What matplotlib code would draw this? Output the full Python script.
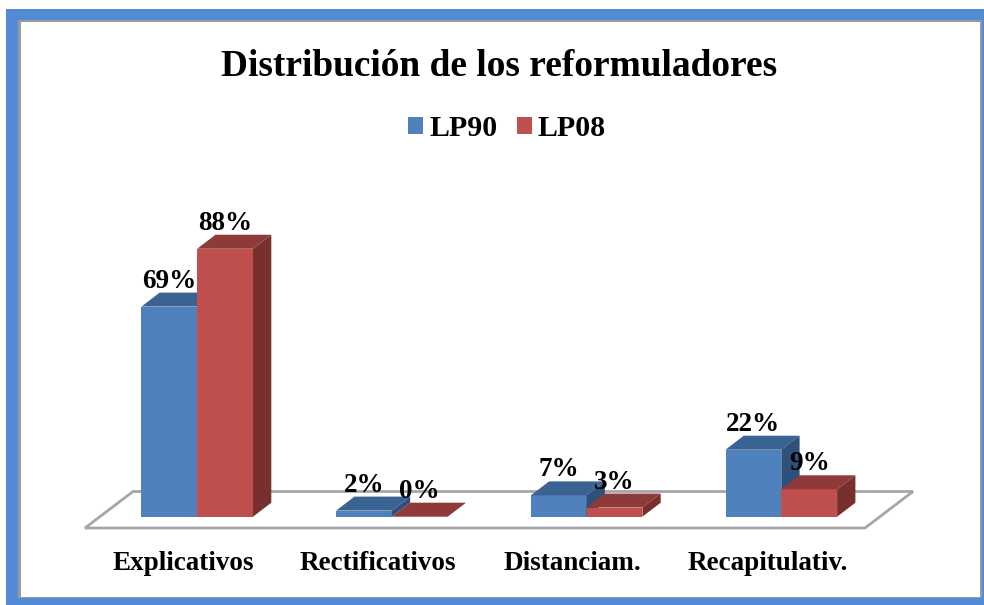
import matplotlib
matplotlib.use('Agg')
import matplotlib.pyplot as plt
from matplotlib.patches import Polygon, Rectangle
import numpy as np

categories = ['Explicativos', 'Rectificativos', 'Distanciam.', 'Recapitulativ.']
lp90 = [69, 2, 7, 22]
lp08 = [88, 0, 3, 9]

W, H = 984, 605
plt.rcParams['font.family'] = ['Liberation Serif', 'DejaVu Serif']
plt.rcParams['font.weight'] = 'bold'

fig = plt.figure(figsize=(W / 100, H / 100), dpi=100, facecolor='white')

# outer frame, in pixels from the top left
def frame(x0, y0, x1, y1, col):
    fig.add_artist(Rectangle((x0 / W, 1 - y1 / H), (x1 - x0) / W, (y1 - y0) / H,
                             transform=fig.transFigure, fc=col, ec='none', zorder=-5))

frame(6, 9, 984, 605, '#528BD4')
frame(18, 20, 982, 598, '#9A9A9A')
frame(20.5, 21.5, 979.5, 596.5, 'white')

# axes: left/right are the ends of the floor, bottom is the bar base
base_px = 516.7
per_pct = 3.045
per_cat = 194.7
left_px, right_px = 85, 913
top_px = base_px - 110 * per_pct
ax = fig.add_axes([left_px / W, 1 - base_px / H, (right_px - left_px) / W, (base_px - top_px) / H])
ax.set_xlim((left_px - 197.2) / per_cat, (right_px - 197.2) / per_cat)
ax.set_ylim(0, 110)
ax.patch.set_alpha(0)
for s in ax.spines.values():
    s.set_visible(False)
ax.set_yticks([])

x = np.arange(len(categories))
bw = 55.8 / per_cat
dx = 18.3 / per_cat
dy = 14 / per_pct

# floor
xl, xr = ax.get_xlim()
floor = Polygon([(xl, -11.3 / per_pct), (xl + 48 / per_cat, 25.2 / per_pct),
                 (xr, 25.2 / per_pct), (xr - 48 / per_cat, -11.3 / per_pct)],
                closed=True, fc='none', ec='#A6A6A6', lw=2, clip_on=False, zorder=1)
ax.add_patch(floor)


def bars3d(xs, vals, front, top, side, label):
    bars = ax.bar(xs, vals, bw, align='edge', color=front, label=label, zorder=3)
    for b, v in zip(xs, vals):
        ax.add_patch(Polygon([(b, v), (b + dx, v + dy), (b + bw + dx, v + dy), (b + bw, v)],
                             fc=top, ec='none', clip_on=False, zorder=3))
        ax.add_patch(Polygon([(b + bw, 0), (b + bw + dx, dy), (b + bw + dx, v + dy), (b + bw, v)],
                             fc=side, ec='none', clip_on=False, zorder=3))
        ax.text(b + bw / 2, v + 25.5 / per_pct, '%d%%' % v, ha='center', va='center',
                fontsize=19.5, color='black', zorder=5)
    return bars


bars3d(x - bw, lp90, '#4F81BD', '#3B6392', '#2F5078', 'LP90')
bars3d(x, lp08, '#C0504D', '#8E3A38', '#77302E', 'LP08')

# the labels sit a bit left of the bar pairs in the original
ax.set_xticks(x - 14 / per_cat)
ax.set_xticklabels(categories, fontsize=19.5)
ax.tick_params(axis='x', length=0, pad=25)

fig.text(499 / W, 1 - 66 / H, 'Distribución de los reformuladores', ha='center', va='center',
         fontsize=26.9, color='black')
fig.legend(loc='center', bbox_to_anchor=(507 / W, 1 - 129 / H), ncol=2, frameon=False,
           fontsize=21.5, handlelength=0.5, handleheight=0.5, handletextpad=0.2,
           columnspacing=0.65, borderpad=0, borderaxespad=0)

fig.savefig('out.png', dpi=100)
